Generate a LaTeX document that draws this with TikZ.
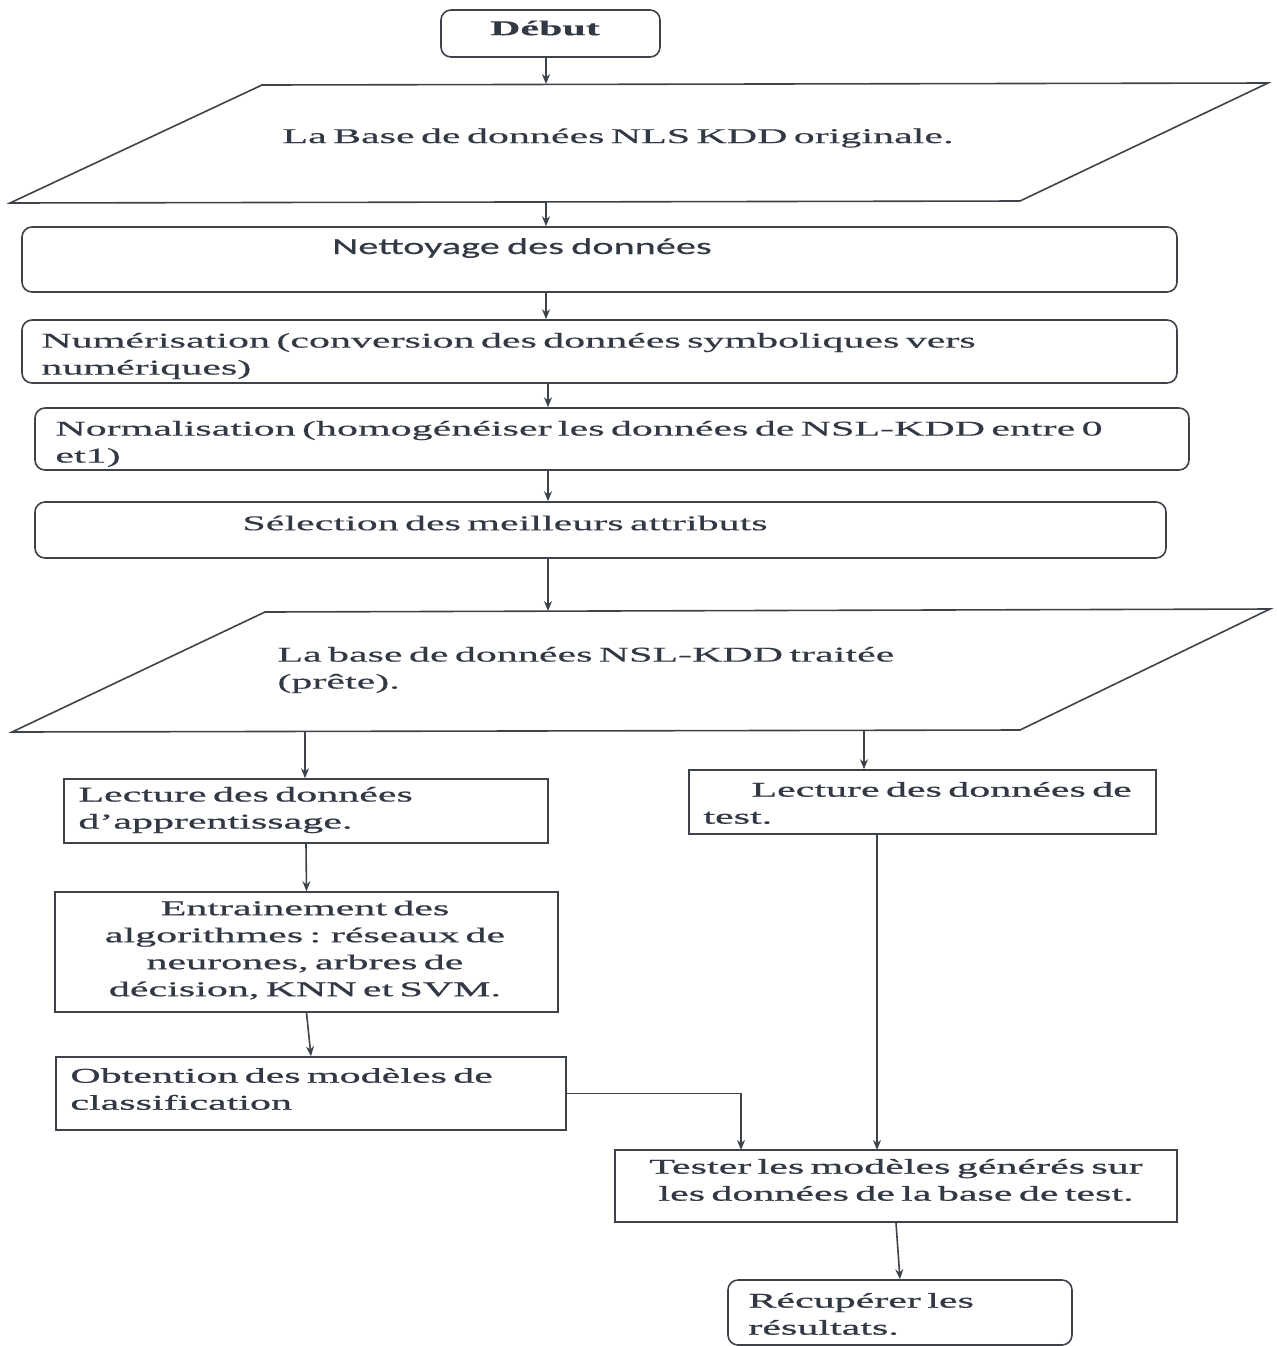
\documentclass[tikz,border=0pt]{standalone}
\usepackage{fontspec}
\setmainfont{Liberation Serif}
\newfontfamily\wserif[FakeStretch=2.0,FakeBold=0.4,WordSpace=0.6]{Liberation Serif}
\newfontfamily\wserifb[FakeStretch=2.0,FakeBold=0.9,WordSpace=0.6]{Liberation Serif}
\newfontfamily\wsans[FakeStretch=1.75,FakeBold=0.4,WordSpace=0.8]{Carlito}
\usetikzlibrary{arrows.meta}
\definecolor{ink}{HTML}{323944}
\definecolor{edge}{HTML}{3E434A}
\begin{document}
\begin{tikzpicture}[x=0.5pt,y=-0.5pt,
  every node/.style={text=ink},
  rbox/.style={draw=edge,line width=0.8pt,rounded corners=5pt,inner sep=0pt},
  sbox/.style={draw=edge,line width=0.8pt,inner sep=0pt},
  lbl/.style={inner sep=0pt,font=\wserif\fontsize{10.5}{13.5}\selectfont},
  lblb/.style={inner sep=0pt,font=\wserifb\fontsize{10.5}{13.5}\selectfont},
  link/.style={draw=edge,line width=0.8pt,-{Stealth[length=5pt,width=4pt]}},
  io/.style={draw=edge,line width=0.8pt}]
\useasboundingbox (0,0) rectangle (1277,1346);

% start
\node[rbox,minimum width=109.5pt,minimum height=23.5pt] (deb) at (550.5,33.5) {};
\node[lbl,font=\bfseries\wserif\fontsize{10.5}{13.5}\selectfont] (debt) at (545,28) {Début};

% raw data set
\draw[io] (262,85) -- (1268,83) -- (1020,201) -- (10,203) -- cycle;
\coordinate (db1top) at (546,84);
\coordinate (db1bot) at (546,202);
\node[lbl] (db1t) at (618,138) {La Base de données NLS KDD originale.};

% preprocessing steps
\node[rbox,minimum width=577.5pt,minimum height=32.5pt] (net) at (599.5,259.5) {};
\node[inner sep=0pt,font=\wsans\fontsize{11.5}{13.5}\selectfont] (nett) at (522,248) {Nettoyage des données};

\node[rbox,minimum width=577.5pt,minimum height=31.5pt] (num) at (599.5,351.5) {};
\node[lbl,align=left,anchor=west] (numt) at (41,356) {Numérisation (conversion des données symboliques vers\\numériques)};

\node[rbox,minimum width=577pt,minimum height=31pt] (nor) at (612,439) {};
\node[lbl,align=left,anchor=west] (nort) at (55,444) {Normalisation (homogénéiser les données de NSL-KDD entre 0\\et1)};

\node[rbox,minimum width=565.5pt,minimum height=28pt] (sel) at (600.5,530) {};
\node[lbl] (selt) at (505,523) {Sélection des meilleurs attributs};

% prepared data set
\draw[io] (265,612) -- (1270,609) -- (1020,730) -- (12,732) -- cycle;
\coordinate (db2top) at (548,611);
\coordinate (db2l) at (305,731);
\coordinate (db2r) at (864,731);
\node[lbl,align=left,anchor=west] (db2t) at (277,670) {La base de données NSL-KDD traitée\\(prête).};

% training branch
\node[sbox,minimum width=242pt,minimum height=32pt] (lapp) at (306,811) {};
\node[lblb,align=left,anchor=west] (lappt) at (78,810) {Lecture des données\\d’apprentissage.};

\node[sbox,minimum width=251.5pt,minimum height=60pt] (ent) at (306.5,952) {};
\node[lblb,align=center] (entt) at (305,950) {Entrainement des\\algorithmes : réseaux de\\neurones, arbres de\\décision, KNN et SVM.};

\node[sbox,minimum width=255pt,minimum height=36.5pt] (obt) at (311,1093.5) {};
\node[lblb,align=left,anchor=west] (obtt) at (70,1089) {Obtention des modèles de\\classification};

% test branch
\node[sbox,minimum width=233.5pt,minimum height=32pt] (lts) at (922.5,802) {};
\node[lblb,align=left,anchor=west] (ltst) at (703,803) {\hspace*{24pt}Lecture des données de\\test.};

\node[sbox,minimum width=281pt,minimum height=36pt] (tes) at (896,1186) {};
\node[lblb,align=center] (test) at (896,1180) {Tester les modèles générés sur\\les données de la base de test.};
\coordinate (tin1) at (741,1150);
\coordinate (tin2) at (877,1150);

\node[rbox,minimum width=172pt,minimum height=32.5pt] (rec) at (900,1312.5) {};
\node[lblb,align=left,anchor=west] (rect) at (748,1314) {Récupérer les\\résultats.};

% connectors
\draw[link] (deb.south -| db1top) -- (db1top);
\draw[link] (db1bot) -- (db1bot |- net.north);
\draw[link] (net.south -| db1bot) -- (num.north -| db1bot);
\draw[link] (num.south -| db2top) -- (nor.north -| db2top);
\draw[link] (nor.south -| db2top) -- (sel.north -| db2top);
\draw[link] (sel.south -| db2top) -- (db2top);
\draw[link] (db2l) -- (db2l |- lapp.north);
\draw[link] (db2r) -- (db2r |- lts.north);
\draw[link] (lapp.south) -- (ent.north);
\draw[link] (ent.south) -- (obt.north);
\draw[link] (obt.east) -| (tin1);
\draw[link] (lts.south -| tin2) -- (tin2);
\draw[link] (tes.south) -- (rec.north);
\end{tikzpicture}
\end{document}
